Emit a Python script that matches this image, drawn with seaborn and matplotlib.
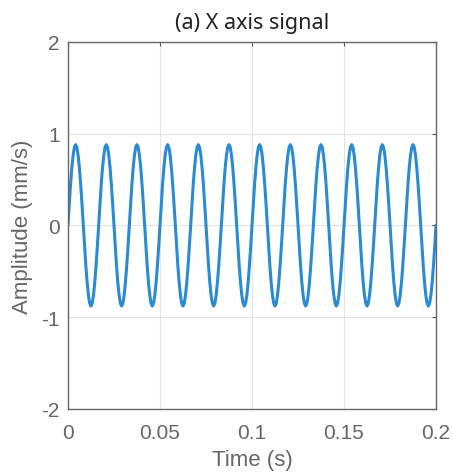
import numpy as np
import pandas as pd
import seaborn as sns
import matplotlib.pyplot as plt

# One period of the vibration signal (mm/s), 24 samples per cycle
cycle_amplitude = [0.00, 0.23, 0.44, 0.62, 0.76, 0.85, 0.88, 0.85, 0.76, 0.62, 0.44, 0.23,
                   0.00, -0.23, -0.44, -0.62, -0.76, -0.85, -0.88, -0.85, -0.76, -0.62, -0.44, -0.23]
n_cycles = 12          # peaks counted between 0 and 0.2 s
duration = 0.2         # seconds
x_ticks = [0, 0.05, 0.1, 0.15, 0.2]
x_ticklabels = ['0', '0.05', '0.1', '0.15', '0.2']
y_ticks = [-2, -1, 0, 1, 2]

# Building the signal table
amp = np.array(cycle_amplitude * n_cycles + [cycle_amplitude[0]])
time = np.linspace(0, duration, len(amp))
signal_df = pd.DataFrame({'time': time, 'amplitude': amp})

sns.set_style('white')
plt.rcParams['font.family'] = ['Liberation Sans', 'DejaVu Sans']
plt.rcParams['axes.unicode_minus'] = False

fig = plt.figure(figsize=(4.53, 4.77), dpi=100, facecolor='white')
ax = fig.add_axes([0.150, 0.141, 0.8125, 0.769])
sns.lineplot(data=signal_df, x='time', y='amplitude', color='#2a8bd2', linewidth=2.2, ax=ax)

ax.set_xlim(0, 0.2)
ax.set_ylim(-2, 2)
ax.set_xticks(x_ticks)
ax.set_xticklabels(x_ticklabels)
ax.set_yticks(y_ticks)
ax.grid(True, color='#e3e3e3', linewidth=0.8)
ax.set_axisbelow(True)
ax.tick_params(direction='in', length=3, width=0.8, colors='#555555', labelcolor='#666666',
               labelsize=15, top=True, right=True, pad=6)
ax.tick_params(axis='x', pad=10)
for s in ax.spines.values():
    s.set_color('#666666')
    s.set_linewidth(1.0)

ax.set_xlabel('Time (s)', fontsize=16, color='#666666', labelpad=5)
ax.set_ylabel('Amplitude (mm/s)', fontsize=16, color='#666666', labelpad=6)
ax.set_title('(a) X axis signal', fontsize=15.5, color='#222222', family='Noto Sans', pad=10)

plt.savefig('out.png', dpi=100, facecolor='white')
